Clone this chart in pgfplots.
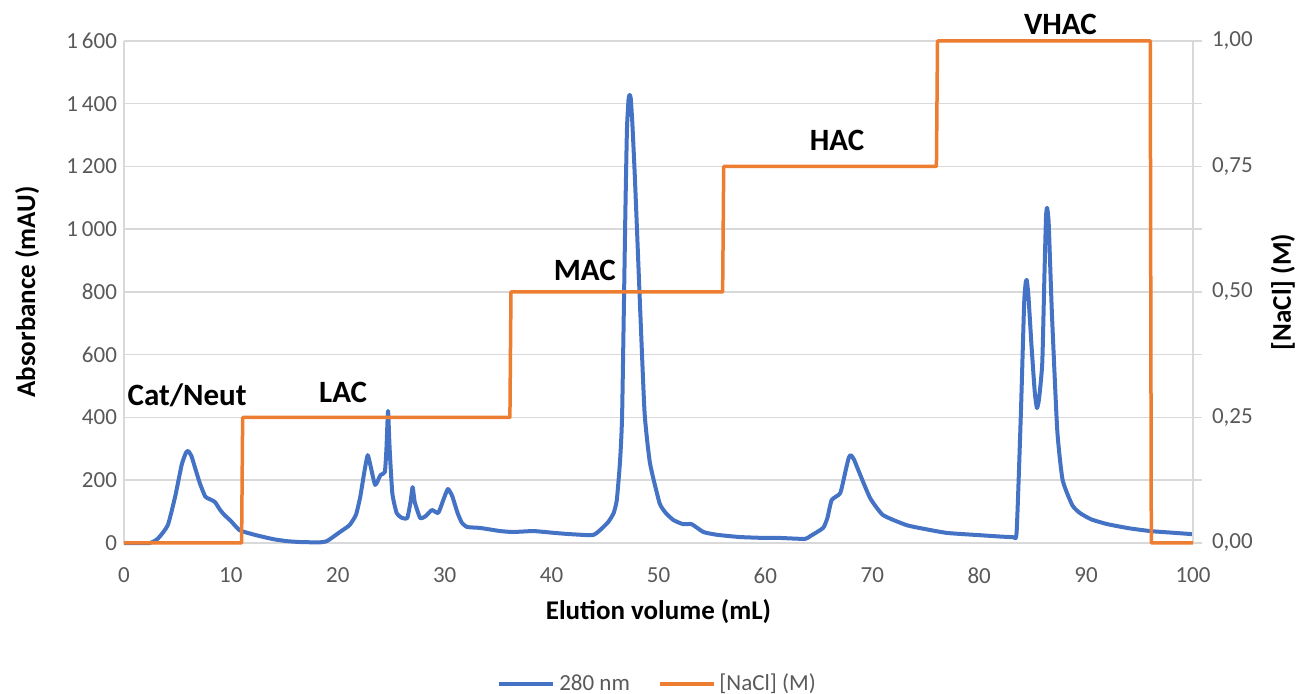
\documentclass[border=0pt]{standalone}
\usepackage{pgfplots}
\pgfplotsset{compat=1.18}
\usepackage{fontspec}
\setmainfont{Carlito}
\definecolor{cblue}{HTML}{4472C4}
\definecolor{corange}{HTML}{ED7D31}
\definecolor{gridgray}{HTML}{D9D9D9}
\definecolor{ticktext}{HTML}{595959}
\pgfplotstableread{
x y
0 0
2.4 0
3.2 15
4.1 57
4.8 150
5.4 250
5.8 288
6.0 293
6.3 278
6.6 245
7.1 190
7.6 148
8.0 140
8.5 131
9.0 105
9.4 89
10.0 70
10.8 41
11.8 30
12.7 22
14.0 12
15.2 6
16.5 3
18.3 2
18.9 5
19.3 13
20.2 35
21.1 57
21.7 90
22.1 147
22.5 230
22.8 280
23.1 240
23.5 185
24.0 217
24.4 226
24.55 300
24.7 421
24.85 300
25.1 159
25.5 96
26.0 80
26.5 80
26.8 130
27.0 178
27.2 130
27.7 80
28.2 85
28.8 105
29.4 96
29.9 140
30.3 172
30.7 150
31.2 96
31.6 65
32.1 51
33.3 48
35.2 38
36.4 35
38.3 38
40.0 33
41.4 29
43.8 25
44.5 40
45.3 67
45.8 95
46.1 137
46.4 260
46.6 414
46.9 1052
47.05 1320
47.2 1415
47.3 1428
47.4 1418
47.55 1340
47.8 1157
48.3 733
48.7 414
49.2 255
50.1 127
50.7 95
51.4 73
52.3 60
53.1 60
54.2 35
55.5 26
57.6 19
60.0 16
61.4 16
63.7 13
64.2 22
65.4 48
65.8 80
66.2 137
67.0 159
67.5 230
67.8 272
68.0 280
68.3 265
68.8 223
69.8 143
71.0 89
73.2 57
75.0 44
77.0 32
80.0 25
83.1 19
83.5 35
83.9 414
84.2 760
84.35 830
84.45 838
84.6 790
84.9 625
85.2 480
85.4 430
85.6 460
85.9 574
86.1 850
86.25 1040
86.35 1068
86.5 1020
86.8 733
87.3 360
87.8 201
88.7 121
89.4 96
90.5 75
92.0 60
94.0 47
96.0 38
98.0 33
100 28
}\absdata
\pgfplotstableread{
x y
0 0
11.0 0
11.1 0.25
36.1 0.25
36.2 0.5
56.0 0.5
56.1 0.75
76.0 0.75
76.1 1.0
96.0 1.0
96.1 0
100 0
}\nacldata
\begin{document}
\begin{tikzpicture}
\useasboundingbox (-62pt,-75.5pt) rectangle (588.5pt,271.5pt);
\begin{axis}[
  at={(0,0)}, anchor=south west,
  scale only axis, width=534.5pt, height=251pt,
  xmin=0, xmax=100, ymin=0, ymax=1600,
  xtick={0,10,...,100}, ytick={0,200,...,1600},
  ymajorgrids, grid style={draw=gridgray, line width=0.75pt},
  axis x line*=bottom, axis y line*=left,
  axis line style={draw=gridgray, line width=0.75pt},
  major tick length=0pt,
  tick label style={text=ticktext, font=\fontsize{11.5}{13}\selectfont},
  xticklabel style={yshift=-9pt},
  /pgf/number format/assume math mode=true,
  /pgf/number format/1000 sep={\,},
  every axis x label/.style={at={(axis description cs:0.5,-0.1375)}, anchor=center, font=\bfseries\fontsize{13.5}{15}\selectfont},
  every axis y label/.style={at={(axis description cs:-0.0907,0.5)}, rotate=90, anchor=center, font=\bfseries\fontsize{13.5}{15}\selectfont},
  xlabel={Elution volume (mL)},
  ylabel={Absorbance (mAU)},
  clip=false,
]
\addplot[cblue, line width=2pt, line join=round, smooth, tension=0.3] table[x=x,y=y] {\absdata};
\node[font=\bfseries\fontsize{15.5}{17}\selectfont] at (axis cs:5.9,472) {Cat/Neut};
\node[font=\bfseries\fontsize{15.5}{17}\selectfont] at (axis cs:20.5,481) {LAC};
\node[font=\bfseries\fontsize{15.5}{17}\selectfont] at (axis cs:43.1,870) {MAC};
\node[font=\bfseries\fontsize{15.5}{17}\selectfont] at (axis cs:66.7,1284) {HAC};
\node[font=\bfseries\fontsize{15.5}{17}\selectfont] at (axis cs:87.6,1652) {VHAC};
\end{axis}
\begin{axis}[
  at={(0,0)}, anchor=south west,
  scale only axis, width=534.5pt, height=251pt,
  xmin=0, xmax=100, ymin=0, ymax=1,
  axis x line=none, axis y line*=right,
  ytick={0,0.25,0.5,0.75,1}, minor ytick={0.125,0.375,0.625,0.875},
  tick align=outside, major tick length=4.5pt, minor tick length=4.5pt,
  tick style={draw=gridgray, line width=0.75pt},
  axis line style={draw=gridgray, line width=0.75pt},
  tick label style={text=ticktext, font=\fontsize{11.5}{13}\selectfont},
  yticklabel style={xshift=1.5pt, /pgf/number format/.cd, fixed, fixed zerofill, precision=2, use comma, assume math mode=true},
  every axis y label/.style={at={(axis description cs:1.0842,0.5)}, rotate=90, anchor=center, font=\bfseries\fontsize{13.5}{15}\selectfont},
  ylabel={[NaCl] (M)},
  clip=false,
  legend columns=2,
  legend style={draw=none, fill=none, at={(axis description cs:0.5,-0.281)}, anchor=center, font=\fontsize{11.5}{13}\selectfont, text=ticktext, /tikz/every even column/.append style={column sep=12pt}},
  legend image code/.code={\draw[#1] (0pt,0pt) -- (27pt,0pt);},
]
\addlegendimage{cblue, line width=2pt}
\addlegendentry{280 nm}
\addplot[corange, line width=1.75pt, line join=round] table[x=x,y=y] {\nacldata};
\addlegendentry{[NaCl] (M)}
\end{axis}
\end{tikzpicture}
\end{document}
